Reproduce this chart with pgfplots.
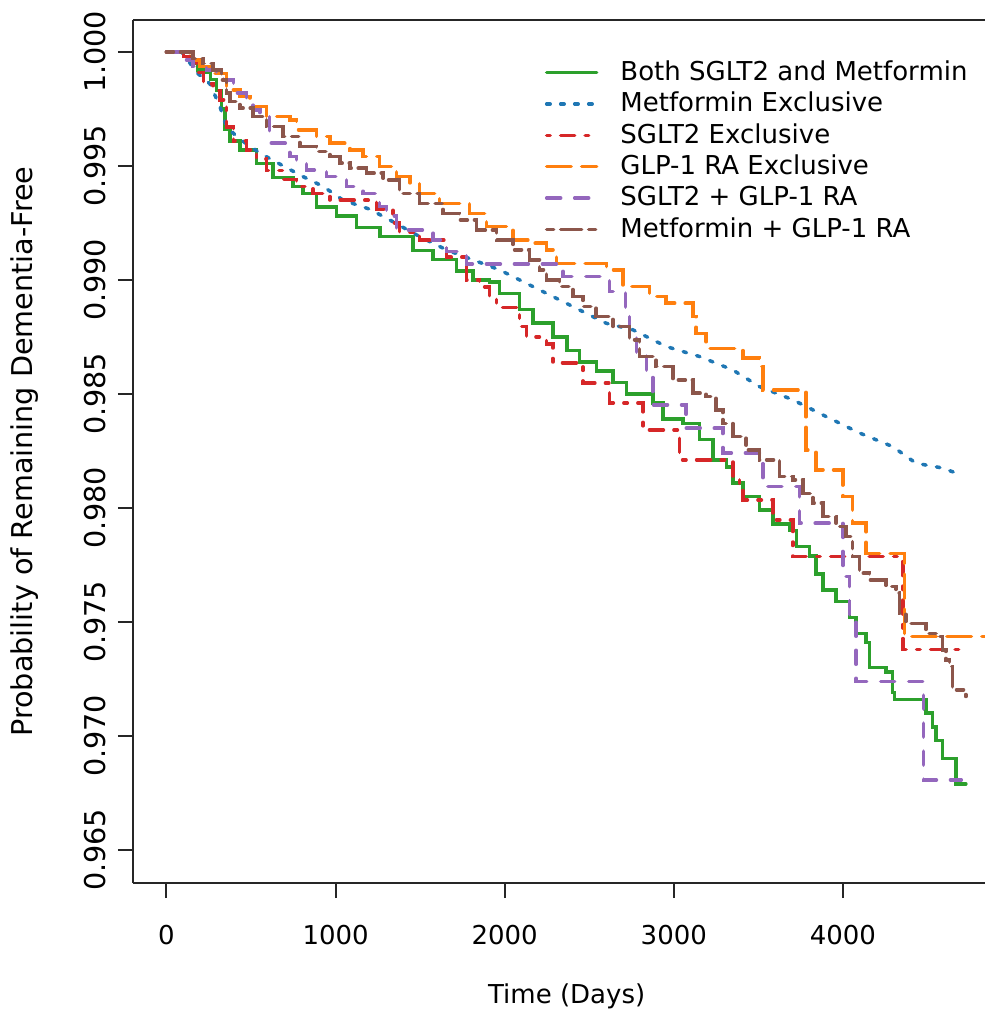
\documentclass[border=0pt]{standalone}
\usepackage{fontspec}
\setmainfont{DejaVu Sans}
\usepackage{pgfplots}
\pgfplotsset{compat=1.18}

\definecolor{kmgreen}{HTML}{2CA02C}
\definecolor{kmblue}{HTML}{1F77B4}
\definecolor{kmred}{HTML}{D62728}
\definecolor{kmorange}{HTML}{FF7F0E}
\definecolor{kmpurple}{HTML}{9467BD}
\definecolor{kmbrown}{HTML}{8C564B}

\begin{document}
\begin{tikzpicture}
\path[use as bounding box] (-39.9pt,-37.8pt) rectangle (255.6pt,264.9pt);
\begin{axis}[
    at={(0pt,0pt)}, anchor=south west,
    scale only axis, width=255.6pt, height=258.9pt,
    xmin=-198, xmax=4840, ymin=0.96355, ymax=1.0014,
    axis x line=box, axis y line=left,
    x axis line style={-}, y axis line style={-},
    axis line style={line width=0.6pt, black!85},
    xtick pos=left, ytick pos=left,
    tick align=outside, major tick length=4.5pt,
    tick style={line width=0.6pt, black!85},
    xtick={0,1000,2000,3000,4000},
    xticklabels={0,1000,2000,3000,4000},
    ytick={0.965,0.970,0.975,0.980,0.985,0.990,0.995,1.000},
    yticklabels={0.965,0.970,0.975,0.980,0.985,0.990,0.995,1.000},
    xticklabel style={font=\fontsize{7.8}{9}\selectfont, yshift=-4.6pt},
    yticklabel style={font=\fontsize{8.6}{10}\selectfont, rotate=90, anchor=south},
    xlabel={Time (Days)},
    ylabel={Probability of Remaining Dementia-Free},
    xlabel style={font=\fontsize{7.8}{9}\selectfont, at={([yshift=-34pt]axis description cs:0.509,0)}, anchor=center},
    ylabel style={font=\fontsize{8.6}{10}\selectfont, at={([xshift=-32.4pt]axis description cs:0,0.5)}, anchor=center},
    legend style={at={(axis description cs:0.471,0.9635)}, anchor=north west, draw=none, fill=none,
        font=\fontsize{7.8}{9}\selectfont, row sep=1.1pt, column sep=6.6pt,
        nodes={inner sep=0pt, text height=6.5pt, text depth=1.8pt}},
    legend cell align=left,
    legend image code/.code={\draw[#1] (0pt,0pt) -- (15pt,0pt);},
    every axis plot/.append style={line width=1.05pt, line cap=round},
]

% Both SGLT2 and Metformin
\addplot[kmgreen, const plot] coordinates {
(0,1.0000)(100,0.9998)(150,0.9995)(187,0.9992)(228,0.9991)(260,0.9988)(296,0.9983)
(326,0.9975)(346,0.9966)(375,0.9961)(434,0.9957)(533,0.9951)(630,0.9945)(748,0.9941)
(808,0.9938)(887,0.9932)(1006,0.9928)(1124,0.9923)(1262,0.9919)(1458,0.9913)(1577,0.9909)
(1715,0.9904)(1812,0.9900)(1911,0.9899)(1970,0.9894)(2088,0.9887)(2166,0.9881)(2285,0.9875)
(2367,0.9869)(2443,0.9864)(2543,0.9860)(2641,0.9855)(2719,0.9850)(2876,0.9846)(2935,0.9839)
(3053,0.9837)(3152,0.9830)(3231,0.9821)(3310,0.9818)(3349,0.9811)(3408,0.9805)(3507,0.9799)
(3586,0.9793)(3684,0.9790)(3724,0.9783)(3802,0.9779)(3841,0.9771)(3881,0.9764)(3960,0.9759)
(4038,0.9752)(4078,0.9745)(4137,0.9741)(4157,0.9730)(4255,0.9728)(4294,0.9719)(4306,0.9716)
(4491,0.9710)(4530,0.9704)(4550,0.9698)(4589,0.9690)(4668,0.9679)(4727,0.9679)
};
\addlegendentry{Both SGLT2 and Metformin}

% Metformin Exclusive
\addplot[kmblue, sharp plot, dash pattern=on 1.05pt off 3.15pt] coordinates {
(0,1.0000)(90,1.0000)(140,0.9995)(178,0.9991)(257,0.9986)(316,0.9976)(356,0.9967)
(415,0.9963)(493,0.99585)(592,0.9954)(690,0.9950)(808,0.99453)(926,0.9941)(1044,0.9935)
(1202,0.9931)(1320,0.99263)(1497,0.9919)(1655,0.99132)(1812,0.99088)(1970,0.99044)
(2128,0.98985)(2285,0.98927)(2443,0.98868)(2600,0.9881)(2758,0.98781)(2955,0.98708)
(3152,0.98664)(3349,0.98605)(3507,0.98532)(3704,0.98474)(3900,0.98401)(4097,0.98329)
(4294,0.98269)(4432,0.98196)(4589,0.98175)(4698,0.98145)
};
\addlegendentry{Metformin Exclusive}

% SGLT2 Exclusive
\addplot[kmred, const plot, dash pattern=on 1.05pt off 3.15pt on 4.2pt off 3.15pt] coordinates {
(0,1.0000)(100,0.9998)(178,0.9991)(218,0.9986)(276,0.9983)(316,0.9979)(356,0.9967)
(395,0.9961)(474,0.9957)(533,0.9953)(592,0.9948)(690,0.9944)(769,0.9941)(867,0.9938)
(966,0.9935)(1242,0.9931)(1340,0.9925)(1379,0.9921)(1497,0.99175)(1655,0.9910)(1774,0.9900)
(1852,0.9897)(1911,0.9893)(1951,0.9888)(2088,0.98795)(2128,0.9875)(2246,0.9872)(2285,0.98636)
(2463,0.98548)(2620,0.9846)(2818,0.98342)(3034,0.98211)(3349,0.98123)(3388,0.98093)
(3408,0.98035)(3586,0.97947)(3704,0.97786)(4354,0.9738)(4700,0.9738)
};
\addlegendentry{SGLT2 Exclusive}

% GLP-1 RA Exclusive
\addplot[kmorange, const plot, dash pattern=on 7.35pt off 3.15pt] coordinates {
(0,1.0000)(139,0.99965)(198,0.99936)(276,0.99906)(356,0.99833)(434,0.99804)(493,0.9976)
(592,0.99716)(730,0.99702)(769,0.99658)(887,0.99628)(966,0.9960)(1084,0.9957)(1163,0.99541)
(1261,0.99497)(1360,0.99453)(1440,0.99424)(1497,0.9938)(1615,0.99336)(1792,0.99292)
(1892,0.99234)(2010,0.99219)(2049,0.99175)(2167,0.99161)(2246,0.99132)(2305,0.99073)
(2601,0.99044)(2699,0.98971)(2857,0.98927)(2955,0.98898)(3112,0.98839)(3132,0.98766)
(3191,0.9870)(3408,0.98657)(3507,0.9862)(3526,0.98518)(3782,0.98254)(3841,0.98167)
(3999,0.9805)(4058,0.97933)(4137,0.97801)(4363,0.97436)(4840,0.97436)
};
\addlegendentry{GLP-1 RA Exclusive}

% SGLT2 + GLP-1 RA
\addplot[kmpurple, const plot, dash pattern=on 4.2pt off 4.2pt] coordinates {
(0,1.0000)(99,0.99965)(158,0.99936)(237,0.99921)(296,0.99906)(336,0.99877)(395,0.99863)
(415,0.9982)(474,0.9979)(513,0.99746)(552,0.99731)(610,0.9960)(730,0.99541)(769,0.99512)
(828,0.99482)(946,0.99453)(1064,0.99409)(1163,0.9938)(1261,0.99321)(1300,0.9928)(1360,0.99219)
(1577,0.99175)(1655,0.99125)(1774,0.9907)(2345,0.99015)(2620,0.9895)(2713,0.9886)
(2739,0.9877)(2778,0.9868)(2837,0.9858)(2876,0.98452)(3073,0.9835)(3290,0.98241)
(3526,0.98094)(3743,0.97933)(4000,0.9770)(4040,0.9752)(4078,0.97238)(4475,0.96807)(4700,0.96807)
};
\addlegendentry{SGLT2 + GLP-1 RA}

% Metformin + GLP-1 RA
\addplot[kmbrown, const plot, dash pattern=on 2.1pt off 2.1pt on 6.3pt off 2.1pt] coordinates {
(0,1.0000)(80,1.0000)(158,0.99972)(217,0.9995)(276,0.99921)(326,0.99877)(356,0.99819)
(375,0.99782)(434,0.99753)(513,0.99716)(592,0.99672)(690,0.99628)(789,0.99585)(887,0.99563)
(966,0.99541)(1025,0.99512)(1084,0.9949)(1183,0.99468)(1281,0.99439)(1379,0.9938)(1497,0.99336)
(1635,0.99292)(1734,0.99263)(1832,0.99219)(1951,0.99175)(2049,0.99132)(2147,0.99088)
(2206,0.99044)(2246,0.9900)(2325,0.98971)(2403,0.98927)(2463,0.98883)(2541,0.98839)
(2640,0.98795)(2738,0.98737)(2797,0.98664)(2896,0.9862)(2994,0.98561)(3112,0.98503)
(3191,0.98488)(3250,0.9843)(3290,0.98371)(3349,0.98313)(3428,0.98254)(3507,0.98211)
(3625,0.98137)(3704,0.98123)(3763,0.98064)(3822,0.98021)(3881,0.97962)(3960,0.97918)
(4019,0.97874)(4058,0.97786)(4097,0.97714)(4157,0.97684)(4255,0.97655)(4314,0.97626)
(4333,0.97538)(4373,0.97494)(4491,0.9745)(4570,0.97436)(4589,0.97377)(4609,0.97333)
(4629,0.97304)(4648,0.97202)(4727,0.97173)
};
\addlegendentry{Metformin + GLP-1 RA}

\end{axis}
\end{tikzpicture}
\end{document}
